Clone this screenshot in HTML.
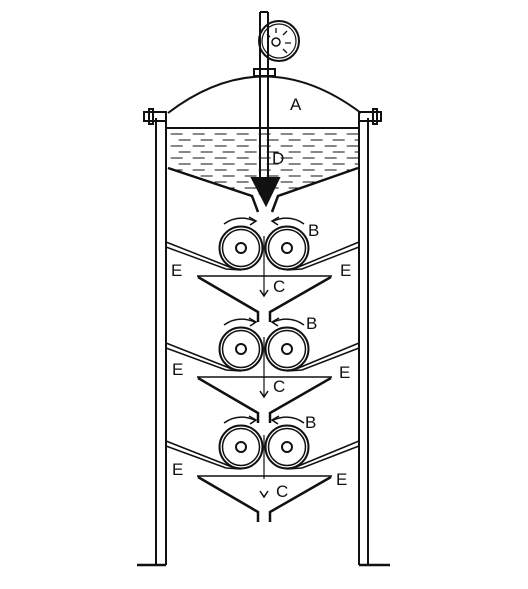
<!DOCTYPE html>
<html><head><meta charset="utf-8"><style>
html,body{margin:0;padding:0;background:#fff;}
svg{display:block;}
text{font-family:"Liberation Sans",sans-serif;font-size:17px;fill:#111;}
</style></head><body>
<svg id="d" width="528" height="589" viewBox="0 0 528 589" stroke="#111" fill="none" stroke-width="2">
<defs><clipPath id="liq"><path d="M166 129 L359 129 L359 168 L278 196 L252 196 L166 168 Z"/></clipPath></defs>
<g>
<line x1="156" y1="118" x2="156" y2="565"/><line x1="166" y1="118" x2="166" y2="565"/>
<line x1="359" y1="118" x2="359" y2="565"/><line x1="368" y1="118" x2="368" y2="565"/>
<line x1="137" y1="565" x2="166" y2="565" stroke-width="2.5"/>
<line x1="359" y1="565" x2="390" y2="565" stroke-width="2.5"/>
</g>
<g>
<rect x="144" y="112" width="22" height="9"/><rect x="149" y="109" width="4" height="15"/>
<rect x="359" y="112" width="22" height="9"/><rect x="373" y="109" width="4" height="15"/>
</g>
<path d="M168 113 Q264 40 361 113"/>
<rect x="254" y="69" width="21" height="7"/>
<g>
<circle cx="279" cy="41" r="20"/><circle cx="279" cy="41" r="17" stroke-width="1.2"/>
<circle cx="276" cy="42" r="4" stroke-width="1.5"/>
<path d="M283 35 l4 -4 M285 43 h6 M283 49 l4 4 M276 33 v-5 M270 37 l-3 -3" stroke-width="1.3"/>
</g>
<g>
<line x1="260" y1="12" x2="260" y2="178"/><line x1="268" y1="12" x2="268" y2="178"/>
<line x1="260" y1="12" x2="268" y2="12"/>
</g>
<line x1="166" y1="128" x2="359" y2="128"/>
<g id="dashes" stroke-width="1" clip-path="url(#liq)"></g>
<g stroke-width="2.5">
<path d="M168 168 L252 196 L258 212"/><path d="M358 168 L278 196 L272 212"/>
</g>
<path d="M252 178 L279 178 L266 205 Z" fill="#111"/>
<g id="stages"></g>
<g stroke="none">
<text x="290" y="110">A</text><text x="272" y="164">D</text>
<text x="308" y="236">B</text><text x="306" y="329">B</text><text x="305" y="428">B</text>
<text x="273" y="292">C</text><text x="273" y="392">C</text><text x="276" y="497">C</text>
<text x="171" y="276">E</text><text x="340" y="276">E</text>
<text x="172" y="375">E</text><text x="339" y="378">E</text>
<text x="172" y="475">E</text><text x="336" y="485">E</text>
</g>
</svg>
<script>
const stageY=[248,349,447];
const ns="http://www.w3.org/2000/svg";
function mk(tag,attrs,parent){const e=document.createElementNS(ns,tag);for(const k in attrs)e.setAttribute(k,attrs[k]);parent.appendChild(e);return e;}
const dg=document.getElementById('dashes');
for(let y=134;y<196;y+=6){for(let x=168+((y/6)%2)*8;x<358;x+=22){
 const l=mk('line',{x1:x,y1:y,x2:x+12,y2:y},dg);
 
 
}}
const sg=document.getElementById('stages');
stageY.forEach((cy,i)=>{
 const g=mk('g',{},sg);
 
 
 [241,287].forEach(cx=>{
  const r1=mk('circle',{cx:cx,cy:cy,r:21.5},g);
  
  
  mk('circle',{cx:cx,cy:cy,r:18.5,'stroke-width':1.5},g);
  mk('circle',{cx:cx,cy:cy,r:5},g);
 });
 mk('path',{d:`M224 ${cy-24} Q238 ${cy-34} 255 ${cy-27}`,'stroke-width':1.5},g);
 mk('path',{d:`M249 ${cy-31} L256 ${cy-27} L250 ${cy-23}`,'stroke-width':1.5},g);
 mk('path',{d:`M304 ${cy-24} Q290 ${cy-34} 273 ${cy-27}`,'stroke-width':1.5},g);
 mk('path',{d:`M279 ${cy-31} L272 ${cy-27} L278 ${cy-23}`,'stroke-width':1.5},g);
 mk('path',{d:`M166 ${cy-6} L232 ${cy+20}`,'stroke-width':1.5},g);
 mk('path',{d:`M166 ${cy-1} L226 ${cy+21} L241 ${cy+22}`,'stroke-width':1.5},g);
 mk('path',{d:`M359 ${cy-6} L296 ${cy+20}`,'stroke-width':1.5},g);
 mk('path',{d:`M359 ${cy-1} L302 ${cy+21} L287 ${cy+22}`,'stroke-width':1.5},g);
 const ty=cy+28+(i==2?1:0);
 mk('line',{x1:264,y1:cy-12,x2:264,y2:i==2?cy+32:cy+48,'stroke-width':1.2},g);
 const ay=i==2?cy+50:cy+48;
 mk('path',{d:`M260 ${ay-6} L264 ${ay} L268 ${ay-6}`,'stroke-width':1.5},g);
 const tr=mk('g',{'stroke-width':2.5},g);
 
 
 mk('line',{x1:197,y1:ty,x2:332,y2:ty,'stroke-width':1.5},tr);
 mk('path',{d:`M198 ${ty+1} L258 ${ty+36} L258 ${ty+46}`},tr);
 mk('path',{d:`M331 ${ty+1} L270 ${ty+36} L270 ${ty+46}`},tr);
});
</script>
</body></html>
